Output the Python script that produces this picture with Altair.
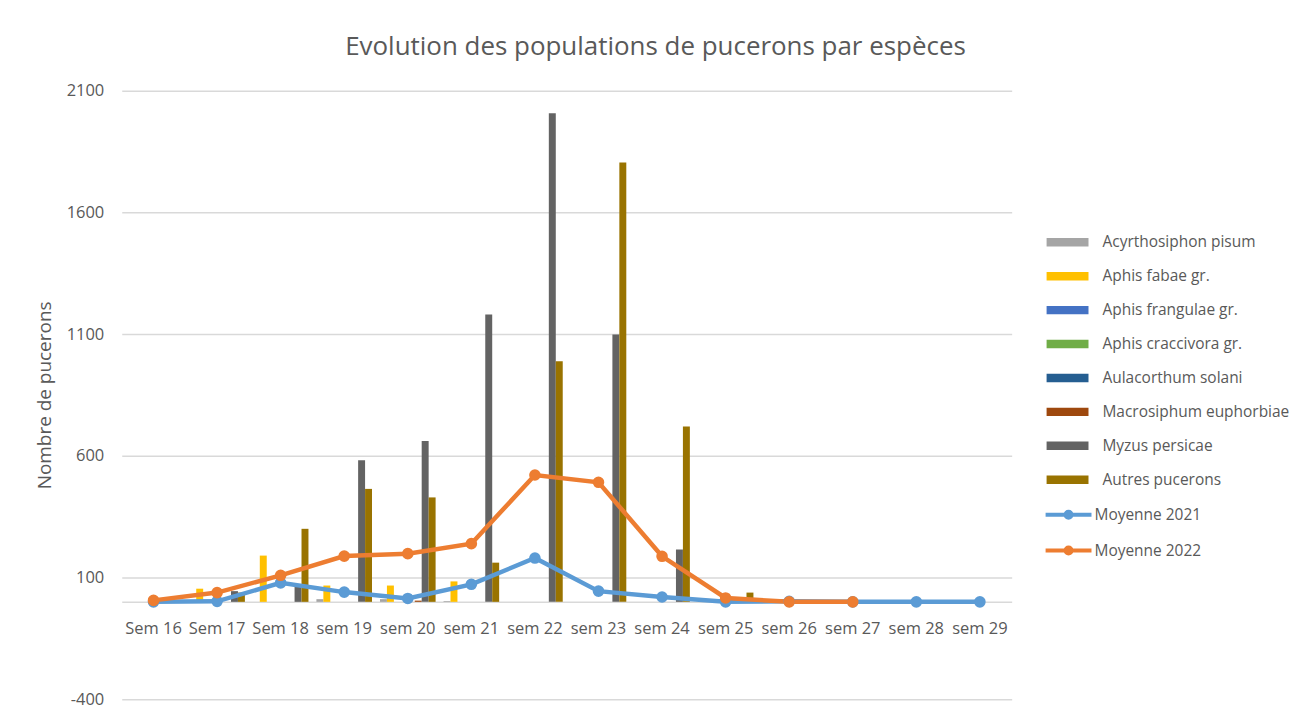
import altair as alt
import pandas as pd

weeks = ["Sem 16", "Sem 17", "Sem 18", "sem 19", "sem 20", "sem 21", "sem 22",
         "sem 23", "sem 24", "sem 25", "sem 26", "sem 27", "sem 28", "sem 29"]

species = ["Acyrthosiphon pisum", "Aphis fabae gr.", "Aphis frangulae gr.",
           "Aphis craccivora gr.", "Aulacorthum solani", "Macrosiphum euphorbiae",
           "Myzus persicae", "Autres pucerons"]
species_colors = ["#A5A5A5", "#FFC000", "#4472C4", "#70AD47", "#255E91",
                  "#9E480E", "#636363", "#997300"]

acyrthosiphon_pisum = [0, 0, 0, 11, 11, 3, 0, 0, 0, 0, 0, 0, 0, 0]
aphis_fabae = [0, 54, 190, 67, 67, 84, 0, 0, 0, 0, 0, 0, 0, 0]
aphis_frangulae = [0, 0, 0, 0, 0, 0, 0, 0, 0, 0, 0, 0, 0, 0]
aphis_craccivora = [0, 0, 0, 0, 0, 0, 0, 0, 0, 0, 0, 0, 0, 0]
aulacorthum_solani = [0, 0, 0, 0, 0, 0, 0, 0, 0, 0, 0, 0, 0, 0]
macrosiphum_euphorbiae = [0, 0, 0, 0, 5, 0, 0, 0, 0, 0, 0, 0, 0, 0]
myzus_persicae = [0, 44, 70, 582, 661, 1180, 2007, 1098, 215, 20, 0, 0, 0, 0]
autres_pucerons = [0, 38, 300, 464, 429, 161, 988, 1805, 720, 38, 0, 0, 0, 0]

series_names = ["Moyenne 2021", "Moyenne 2022"]
series_colors = ["#5B9BD5", "#ED7D31"]
moyenne_2021 = [0, 2, 78, 40, 14, 72, 180, 44, 20, 0, 2, 0, 0, 0]
moyenne_2022 = [6, 38, 109, 188, 198, 239, 521, 491, 187, 16, 0, 0, None, None]

y_ticks = [-400, 100, 600, 1100, 1600, 2100]

bar_values = [acyrthosiphon_pisum, aphis_fabae, aphis_frangulae, aphis_craccivora,
              aulacorthum_solani, macrosiphum_euphorbiae, myzus_persicae, autres_pucerons]
bar_rows = []
for sp, vals in zip(species, bar_values):
    for w, v in zip(weeks, vals):
        bar_rows.append({"semaine": w, "espece": sp, "n": v})
bars_df = pd.DataFrame(bar_rows)

line_rows = []
for name, vals in zip(series_names, [moyenne_2021, moyenne_2022]):
    for w, v in zip(weeks, vals):
        if v is not None:
            line_rows.append({"semaine": w, "serie": name, "n": v})
lines_df = pd.DataFrame(line_rows)

FONT = "Open Sans"
GREY = "#595959"
W, H = 892, 610
zero_offset = -H * (0 - (-400)) / 2500.0

x_enc = alt.X(
    "semaine:N", sort=weeks,
    scale=alt.Scale(domain=weeks, paddingInner=0.125, paddingOuter=0.0625),
    axis=alt.Axis(title=None, labelAngle=0, ticks=False, domain=True,
                  domainColor="#d9d9d9", domainWidth=1.5, offset=zero_offset,
                  labelPadding=19, labelFontSize=16.5, labelColor=GREY,
                  labelFont=FONT, grid=False),
)
y_scale = alt.Scale(domain=[-400, 2100], nice=False, zero=False)
y_axis = alt.Axis(values=y_ticks, labelExpr="datum.value + ''",
                  title="Nombre de pucerons", grid=True,
                  gridColor="#d9d9d9", gridWidth=1.5, domain=False, ticks=False,
                  labelPadding=18, labelFontSize=16.5, labelColor=GREY,
                  labelFont=FONT, titleFont=FONT, titleFontSize=19,
                  titleFontWeight="normal", titleColor=GREY, titlePadding=12)

rect_path = "M-1,-0.2H1V0.2H-1Z"
line_path = "M-1,0H1M-0.13,0A0.13,0.13,0,1,0,0.13,0A0.13,0.13,0,1,0,-0.13,0Z"

bars = alt.Chart(bars_df).mark_bar().encode(
    x=x_enc,
    xOffset=alt.XOffset("espece:N", sort=species,
                        scale=alt.Scale(domain=species, paddingInner=0, paddingOuter=0)),
    y=alt.Y("n:Q", scale=y_scale, axis=y_axis, stack=None),
    y2=alt.datum(0),
    color=alt.Color("espece:N", sort=species,
                    scale=alt.Scale(domain=species, range=species_colors),
                    legend=alt.Legend(orient="none", legendX=927, legendY=131,
                                      title=None, symbolType=rect_path,
                                      symbolSize=1764, symbolStrokeWidth=0,
                                      labelFontSize=15.5, labelColor=GREY,
                                      labelFont=FONT, labelOffset=14,
                                      labelLimit=300, rowPadding=4)),
)

lines = alt.Chart(lines_df).mark_line(
    strokeWidth=4.5,
    point=alt.OverlayMarkDef(filled=True, size=135),
).encode(
    x=x_enc,
    y=alt.Y("n:Q", scale=y_scale, axis=y_axis),
    color=alt.Color("serie:N", sort=series_names,
                    scale=alt.Scale(domain=series_names, range=series_colors),
                    legend=alt.Legend(orient="none", legendX=924, legendY=400,
                                      title=None, symbolType=line_path,
                                      symbolSize=2116, symbolStrokeWidth=4,
                                      labelFontSize=15.5, labelColor=GREY,
                                      labelFont=FONT, labelOffset=1,
                                      labelLimit=300, rowPadding=-1.5)),
)

chart = alt.layer(bars, lines).resolve_scale(color="independent").properties(
    width=W, height=H,
    autosize=alt.AutoSizeParams(type="none"),
    padding={"left": 114, "top": 82, "right": 290, "bottom": 18},
    title=alt.TitleParams("Evolution des populations de pucerons par espèces",
                          anchor="middle", dx=89, offset=2, fontSize=26,
                          font=FONT, fontWeight="normal", color=GREY,
                          baseline="alphabetic"),
).configure_view(stroke=None)

chart.save("out.html", embed_options={"renderer": "svg", "actions": False})
